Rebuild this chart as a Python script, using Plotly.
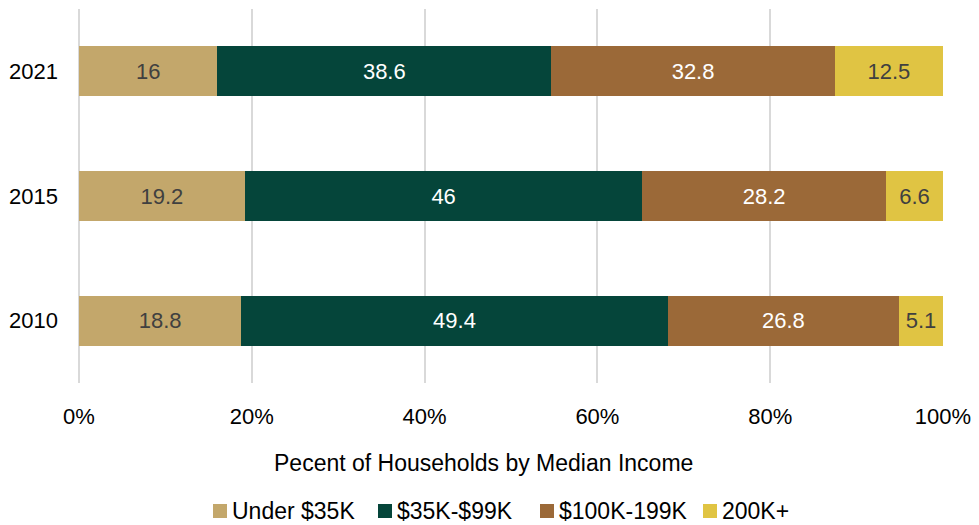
import plotly.graph_objects as go

years = ["2010", "2015", "2021"]
under_35k = [18.8, 19.2, 16]
k35_99 = [49.4, 46, 38.6]
k100_199 = [26.8, 28.2, 32.8]
k200_plus = [5.1, 6.6, 12.5]

series_names = ["Under $35K", "$35K-$99K", "$100K-199K", "200K+"]
series_values = [under_35k, k35_99, k100_199, k200_plus]
series_colors = ["#C3A76B", "#05453A", "#9B6938", "#E0C443"]
label_colors = ["#404040", "#FFFFFF", "#FFFFFF", "#404040"]

FONT = "Liberation Sans, Arial"
W, H = 979, 525
M_L, M_R, M_T, M_B = 79, 36, 9, 142
PLOT_W = W - M_L - M_R
PLOT_H = H - M_T - M_B


def px_x(p):
    """Pixel column -> paper x."""
    return (p - M_L) / PLOT_W


def px_y(p):
    """Pixel row -> paper y."""
    return (H - M_B - p) / PLOT_H


fig = go.Figure()
for name, vals, color, tcolor in zip(series_names, series_values, series_colors, label_colors):
    fig.add_trace(go.Bar(
        y=years, x=vals, name=name, orientation="h",
        marker=dict(color=color, line=dict(width=0)),
        text=[f"{v:g}" for v in vals],
        textposition="inside", insidetextanchor="middle",
        textfont=dict(color=tcolor, size=22, family=FONT),
        hoverinfo="x+name",
        showlegend=False,
    ))

# Legend drawn as swatches + labels below the axis title
legend_left = [213, 378, 540, 703]
shapes = []
annotations = []
for left, name, color in zip(legend_left, series_names, series_colors):
    shapes.append(dict(
        type="rect", xref="paper", yref="paper",
        x0=px_x(left), x1=px_x(left + 14), y0=px_y(518), y1=px_y(504),
        fillcolor=color, line=dict(width=0),
    ))
    annotations.append(dict(
        text=name, xref="paper", yref="paper",
        x=px_x(left + 17), y=px_y(511), xanchor="left", yanchor="middle",
        showarrow=False, font=dict(size=23, color="#000000", family=FONT),
    ))

annotations.append(dict(
    text="Pecent of Households by Median Income", xref="paper", yref="paper",
    x=px_x(483), y=px_y(463), xanchor="center", yanchor="middle",
    showarrow=False, font=dict(size=23, color="#000000", family=FONT),
))

fig.update_layout(
    barmode="stack", barnorm="percent", bargap=0.6,
    width=W, height=H,
    margin=dict(l=M_L, r=M_R, t=M_T, b=M_B, autoexpand=False),
    paper_bgcolor="white", plot_bgcolor="white",
    font=dict(family=FONT, size=22, color="#000000"),
    uniformtext=dict(minsize=22, mode="show"),
    showlegend=False,
    shapes=shapes,
    annotations=annotations,
    xaxis=dict(
        range=[0, 100], tickvals=[0, 20, 40, 60, 80, 100],
        ticktext=["0%", "20%", "40%", "60%", "80%", "100%"],
        showgrid=True, gridcolor="#D9D9D9", gridwidth=2,
        zeroline=True, zerolinecolor="#D9D9D9", zerolinewidth=2,
        showline=False, ticks="", ticklen=0, automargin=False,
        tickfont=dict(size=22), ticklabelstandoff=18,
    ),
    yaxis=dict(
        showgrid=False, zeroline=False, showline=False, ticks="",
        automargin=False,
        tickfont=dict(size=22), ticklabelstandoff=20,
    ),
)

fig.write_html("out.html")
